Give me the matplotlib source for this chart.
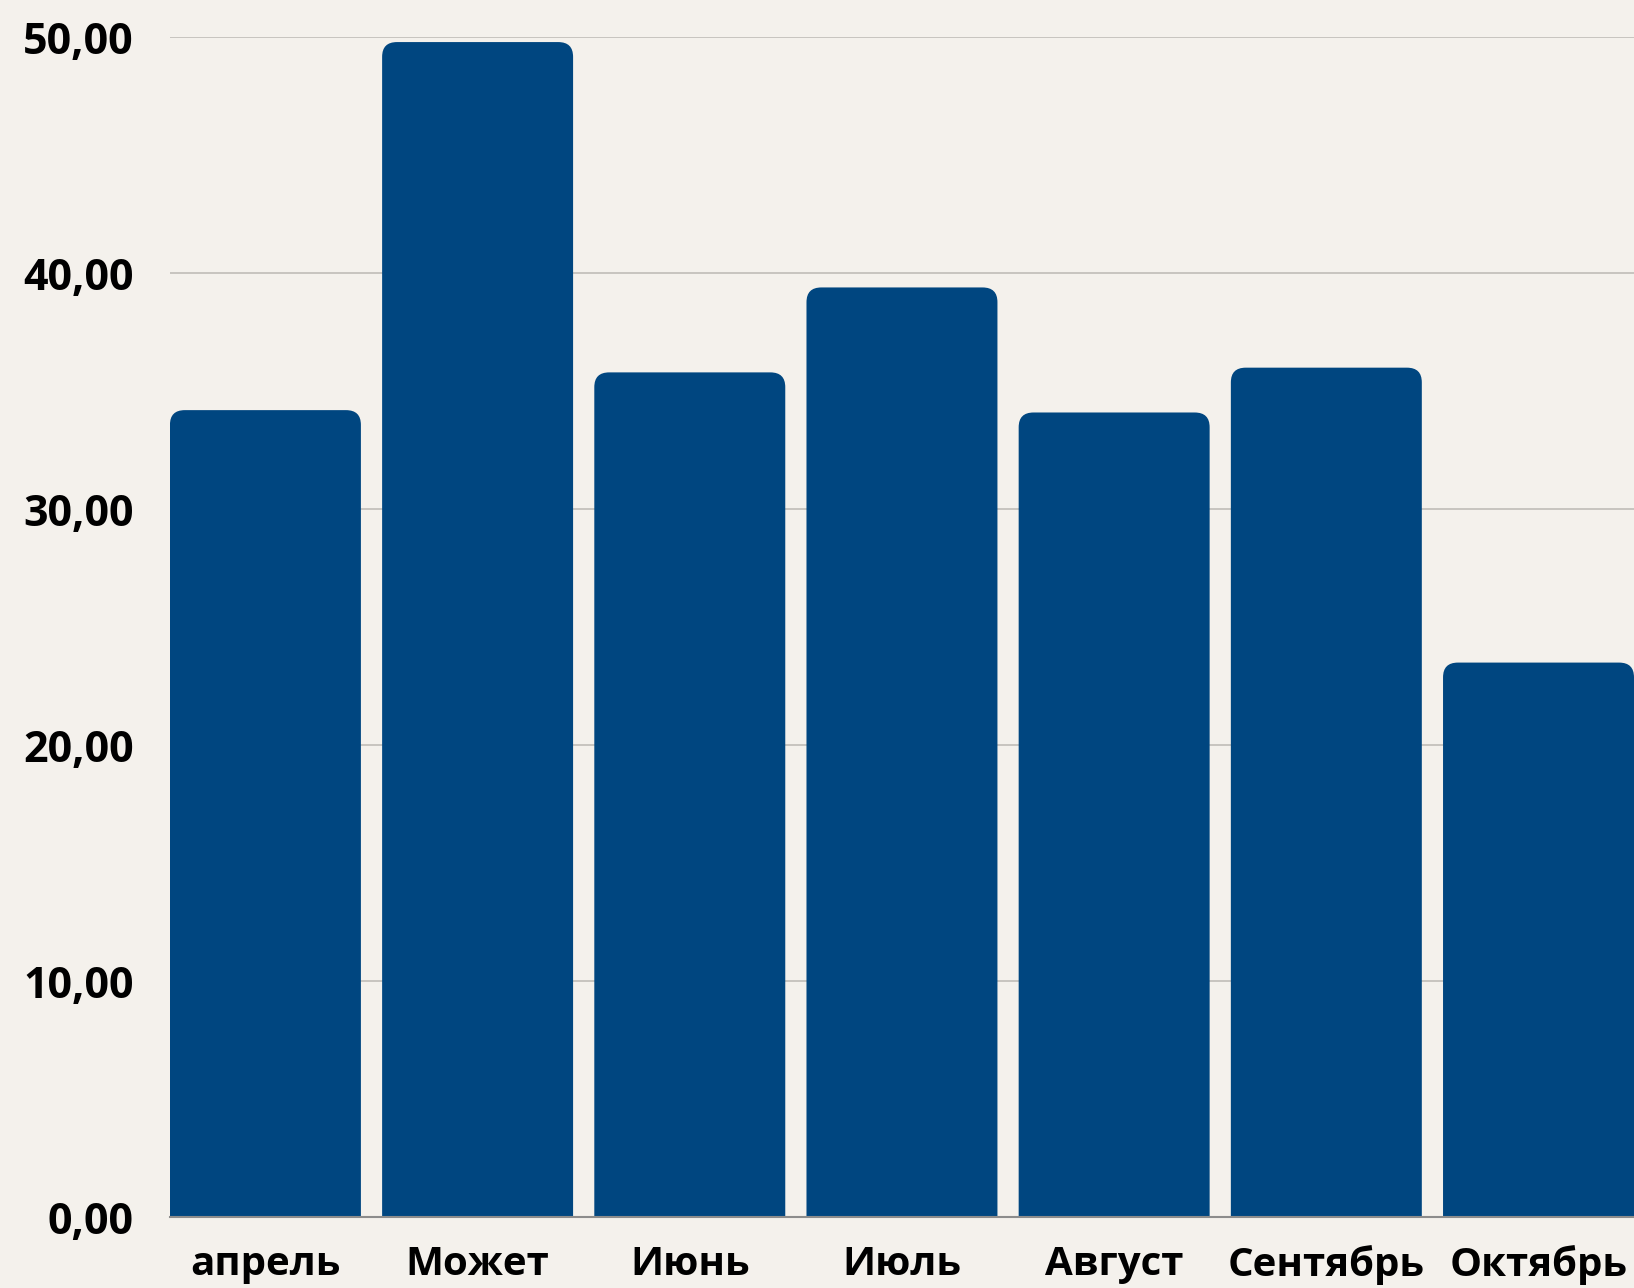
import matplotlib.pyplot as plt
from matplotlib.patches import FancyBboxPatch
from matplotlib.ticker import FuncFormatter, MultipleLocator

months = ["апрель", "Может", "Июнь", "Июль", "Август", "Сентябрь", "Октябрь"]
values = [34.2, 49.8, 35.8, 39.4, 34.1, 36.0, 23.5]

BG = "#f4f1ec"
BAR = "#004680"

plt.rcParams["font.family"] = ["Open Sans", "DejaVu Sans"]

fig = plt.figure(figsize=(16.34, 12.88), dpi=100, facecolor=BG)
ax = fig.add_axes([0.104, 0.0551, 0.896, 0.9159], facecolor=BG)

x = range(len(months))
bars = ax.bar(x, values, width=0.9, color=BAR, zorder=2)

# swap plain rectangles for ones with rounded top corners
for rect in bars:
    rect.set_visible(False)
    x0, w, h = rect.get_x(), rect.get_width(), rect.get_height()
    patch = FancyBboxPatch((x0, -2), w, h + 2,
                           boxstyle="round,pad=0,rounding_size=0.07",
                           mutation_aspect=8.9, facecolor=BAR,
                           edgecolor="none", zorder=2)
    ax.add_patch(patch)

ax.set_xlim(-0.45, len(months) - 0.55)
ax.set_ylim(0, 50)
ax.yaxis.set_major_locator(MultipleLocator(10))
ax.yaxis.set_major_formatter(FuncFormatter(lambda v, p: f"{v:.2f}".replace(".", ",")))
ax.grid(axis="y", color="#c4c1bc", linewidth=1.3, zorder=0)
ax.set_xticks(list(x))
ax.set_xticklabels(months)

for s in ["top", "right", "left"]:
    ax.spines[s].set_visible(False)
ax.spines["bottom"].set_color("#8c8c8c")
ax.spines["bottom"].set_linewidth(1.5)
ax.spines["bottom"].set_zorder(3)

ax.tick_params(axis="both", length=0)
ax.tick_params(axis="y", pad=26, labelsize=31)
ax.tick_params(axis="x", pad=20, labelsize=29)
for lab in ax.get_xticklabels() + ax.get_yticklabels():
    lab.set_fontweight("bold")

fig.savefig("out.png", dpi=100, facecolor=BG)
